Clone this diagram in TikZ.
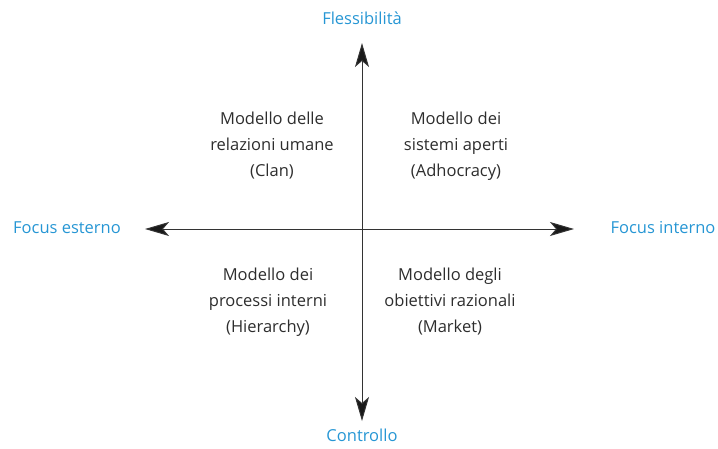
\documentclass[tikz,border=0pt]{standalone}
\usepackage{fontspec}
\setmainfont{Open Sans}
\usetikzlibrary{arrows.meta}
\definecolor{axisblue}{RGB}{38,150,212}
\definecolor{txtgray}{RGB}{45,45,45}
\tikzset{
  axislabel/.style={text=axisblue, font=\fontsize{16.5}{18}\selectfont, inner sep=0pt},
  quadtext/.style={text=txtgray, font=\fontsize{16.5}{26}\selectfont, align=center, inner sep=0pt},
  axisline/.style={draw=black!80, line width=1pt, {Stealth[length=24pt,width=14pt,inset=6pt,fill=black!90]}-{Stealth[length=24pt,width=14pt,inset=6pt,fill=black!90]}}
}
\begin{document}
\begin{tikzpicture}[x=1pt,y=-1pt]
\useasboundingbox (0,0) rectangle (718,448);
\coordinate (top) at (362,43);
\coordinate (bot) at (362,421);
\coordinate (left) at (145,229);
\coordinate (right) at (574,229);
\draw[axisline] (bot) -- (top);
\draw[axisline] (left) -- (right);
\node[axislabel] (flex) at (362,18) {Flessibilità};
\node[axislabel] (ctrl) at (362,435) {Controllo};
\node[axislabel] (fest) at (67,228) {Focus esterno};
\node[axislabel] (fint) at (663,228) {Focus interno};
\node[quadtext] (clan) at (272,146) {Modello delle\\relazioni umane\\(Clan)};
\node[quadtext] (adho) at (456,146) {Modello dei\\sistemi aperti\\(Adhocracy)};
\node[quadtext] (hier) at (268,302) {Modello dei\\processi interni\\(Hierarchy)};
\node[quadtext] (mark) at (450,302) {Modello degli\\obiettivi razionali\\(Market)};
\end{tikzpicture}
\end{document}
